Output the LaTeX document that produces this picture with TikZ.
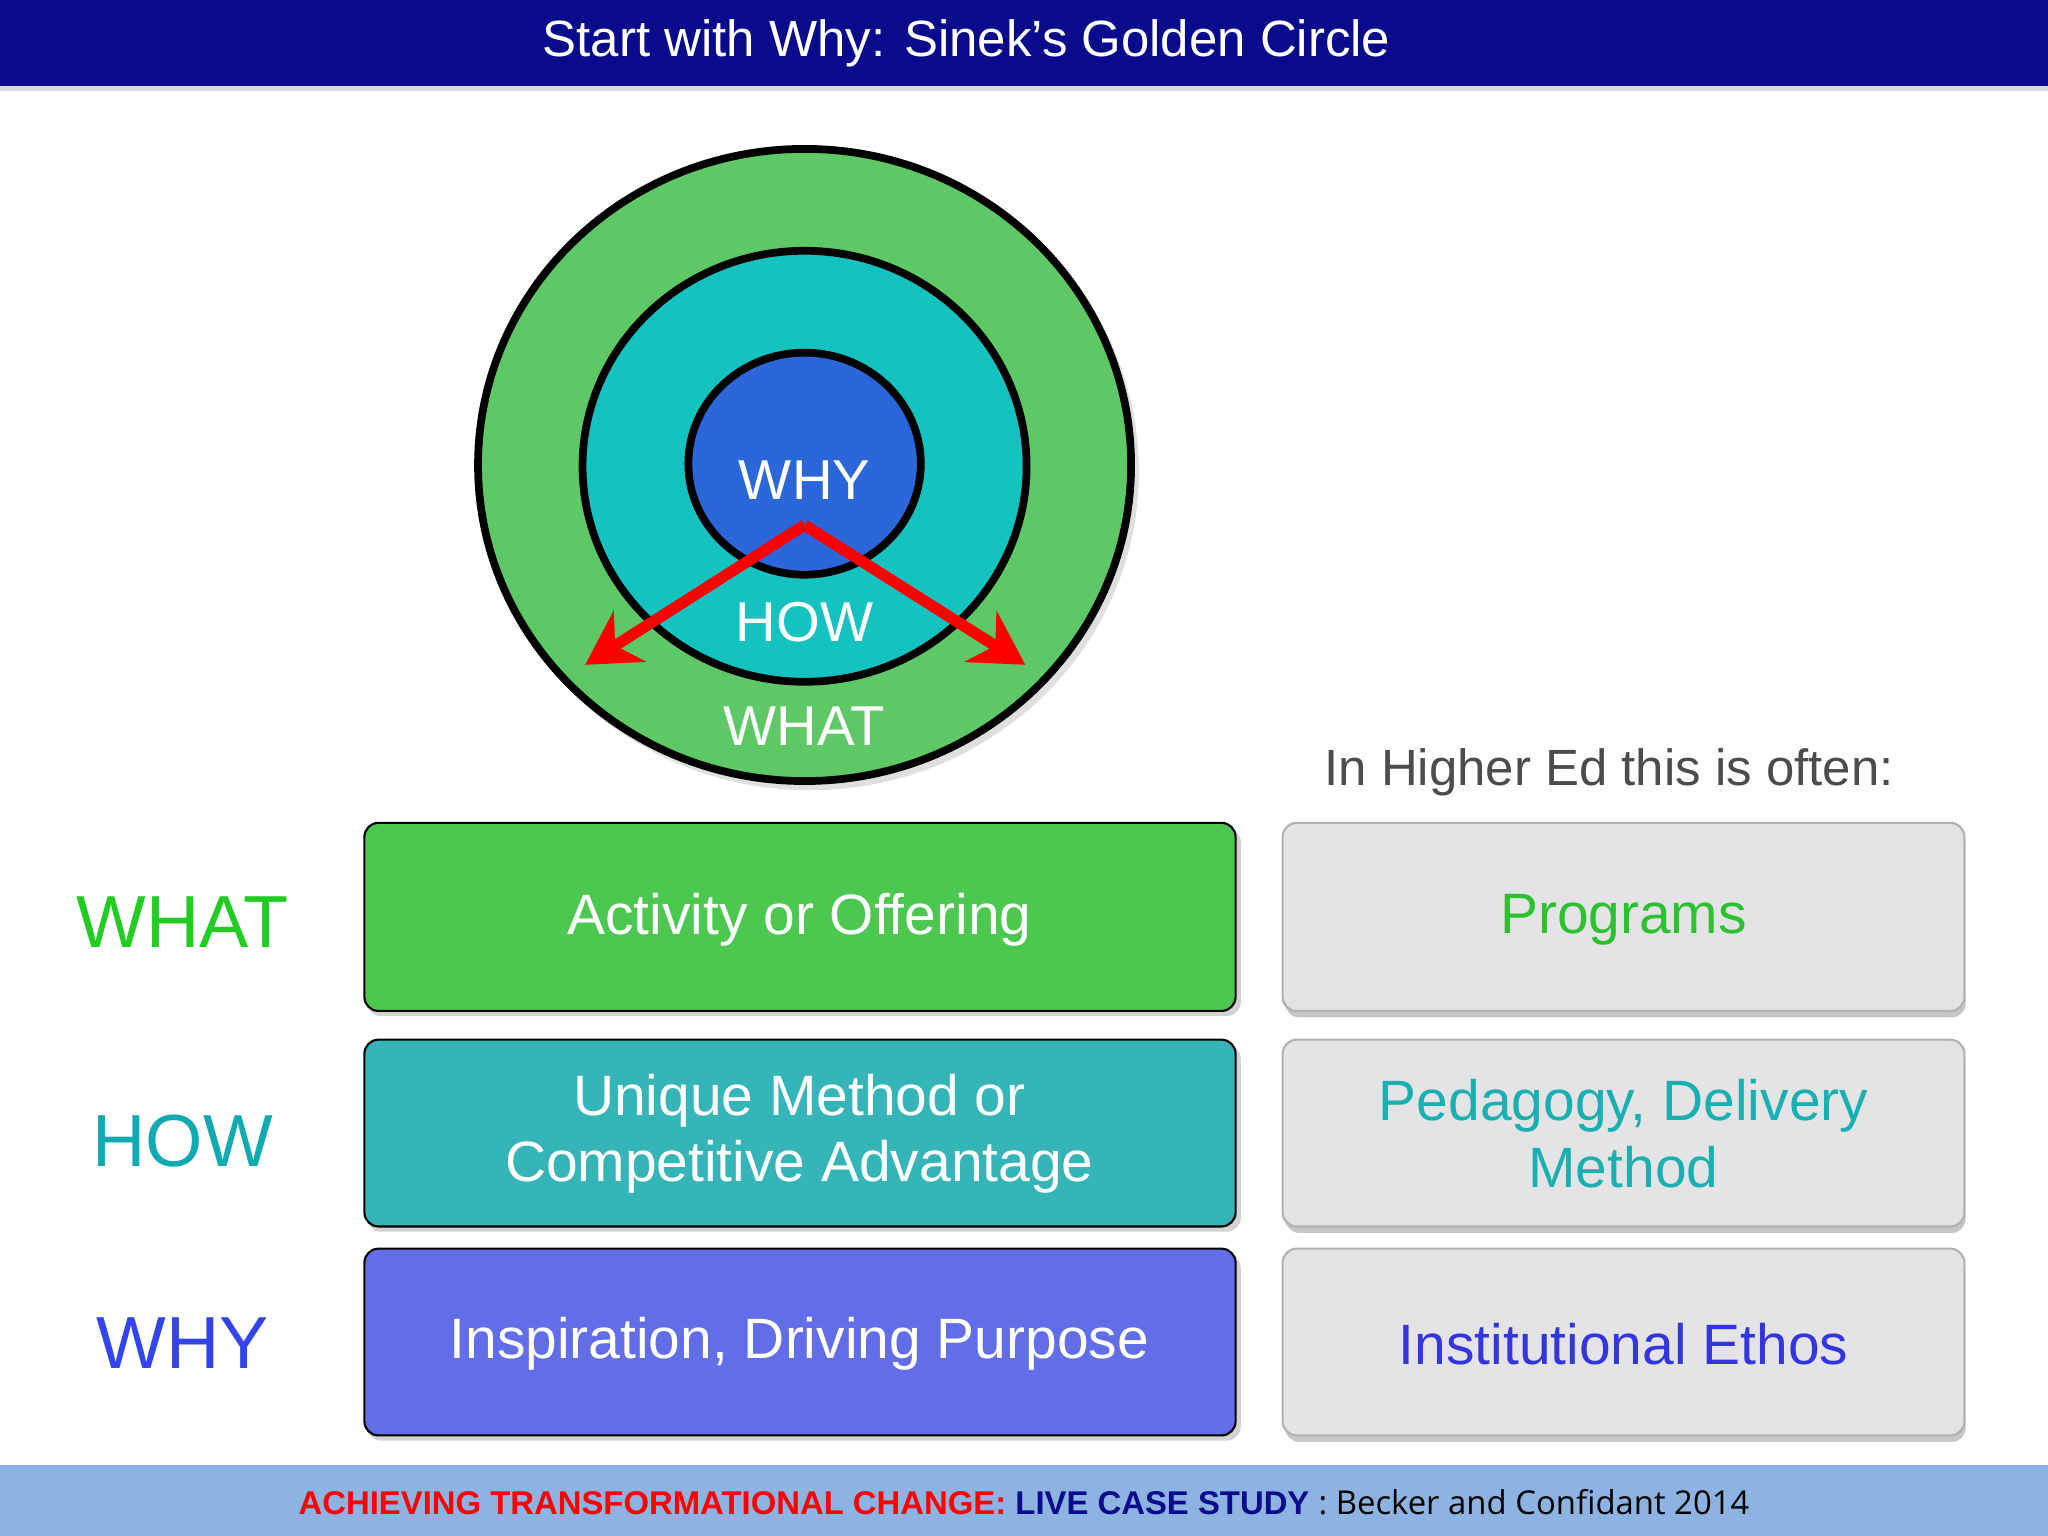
\documentclass[tikz,border=0pt]{standalone}
\usepackage{fontspec}
\setmainfont{Liberation Sans}
\newfontfamily\footfont{Open Sans}
\usetikzlibrary{arrows.meta}
\definecolor{navy}{HTML}{0A0A8C}
\definecolor{cgreen}{HTML}{5DC865}
\definecolor{cteal}{HTML}{14C2C0}
\definecolor{cblue}{HTML}{2B67D8}
\definecolor{bgreen}{HTML}{4CC850}
\definecolor{bteal}{HTML}{35B5B8}
\definecolor{bblue}{HTML}{626DE8}
\definecolor{rgray}{HTML}{E4E4E6}
\definecolor{tgreen}{HTML}{2DC030}
\definecolor{tteal}{HTML}{18B0B0}
\definecolor{tblue}{HTML}{3535E0}
\definecolor{lgreen}{HTML}{22CC22}
\definecolor{lteal}{HTML}{10AAB0}
\definecolor{lblue}{HTML}{3344EE}
\definecolor{footbg}{HTML}{8DB3E2}
\begin{document}
\begin{tikzpicture}[x=0.013061cm,y=-0.013061cm,
  lbox/.style={draw=black,line width=0.6pt,rounded corners=4pt},
  rbox/.style={draw=gray!60,line width=0.6pt,rounded corners=4pt,fill=rgray},
  btxt/.style={text=white,font=\fontsize{16.2}{19}\selectfont,align=center},
  rtxt/.style={font=\fontsize{16.2}{19}\selectfont,align=center},
  ctxt/.style={text=white,font=\fontsize{16}{19}\selectfont},
  side/.style={font=\fontsize{21}{25}\selectfont}]
\useasboundingbox (0,0) rectangle (1568,1176);
\fill[white] (0,0) rectangle (1568,1176);
\fill[navy] (0,0) rectangle (1568,66);
\fill[gray!30] (0,66) rectangle (1568,70);
\node[text=white,font=\fontsize{14.5}{17}\selectfont] (title) at (740,33) {Start with Why: Sinek’s Golden Circle};
% circles
\fill[gray!25] (620,361) ellipse [x radius=252,y radius=244];
\draw[fill=cgreen,line width=2.2pt] (616,356) ellipse [x radius=250,y radius=242];
\draw[fill=cteal,line width=2.2pt] (616,357) ellipse [x radius=170,y radius=165];
\draw[fill=cblue,line width=2.2pt] (616,355) ellipse [x radius=89,y radius=85];
\node[ctxt] (why) at (616,368) {WHY};
\node[ctxt] (how) at (616,476) {HOW};
\node[ctxt] (what) at (616,556) {WHAT};
\coordinate (o) at (616,402);
\coordinate (l) at (448,509);
\coordinate (r) at (785,509);
\draw[red,line width=3.2pt,-{Stealth[length=15pt,width=17pt]}] (o) -- (l);
\draw[red,line width=3.2pt,-{Stealth[length=15pt,width=17pt]}] (o) -- (r);
\node[text=black!70,font=\fontsize{14.5}{17}\selectfont] (hed) at (1232,591) {In Higher Ed this is often:};
% boxes
\foreach \ya/\yb/\c in {630/774/bgreen,796/939/bteal,956/1099/bblue}{
  \fill[gray!35,rounded corners=4pt] (281,\ya+4) rectangle (950,\yb+4);
  \draw[lbox,fill=\c] (279,\ya) rectangle (946,\yb);
  \fill[gray!45,rounded corners=4pt] (984,\ya+5) rectangle (1505,\yb+5);
  \draw[rbox] (982,\ya) rectangle (1504,\yb);
}
\node[btxt] (b1) at (612,704) {Activity or Offering};
\node[btxt] (b2) at (612,868) {Unique Method or\\Competitive Advantage};
\node[btxt] (b3) at (612,1029) {Inspiration, Driving Purpose};
\node[rtxt,text=tgreen] (r1) at (1243,704) {Programs};
\node[rtxt,text=tteal] (r2) at (1243,868) {Pedagogy, Delivery\\Method};
\node[rtxt,text=tblue] (r3) at (1243,1029) {Institutional Ethos};
\node[side,text=lgreen] (s1) at (140,706) {WHAT};
\node[side,text=lteal] (s2) at (140,874) {HOW};
\node[side,text=lblue] (s3) at (140,1028) {WHY};
% footer
\fill[footbg] (0,1122) rectangle (1568,1176);
\node[font=\fontsize{9.35}{11}\selectfont] (foot) at (784,1150) {\textbf{\color{red}ACHIEVING TRANSFORMATIONAL CHANGE:} \textbf{\color{navy}LIVE CASE STUDY} {\footfont : Becker and Confidant 2014}};
\end{tikzpicture}
\end{document}
